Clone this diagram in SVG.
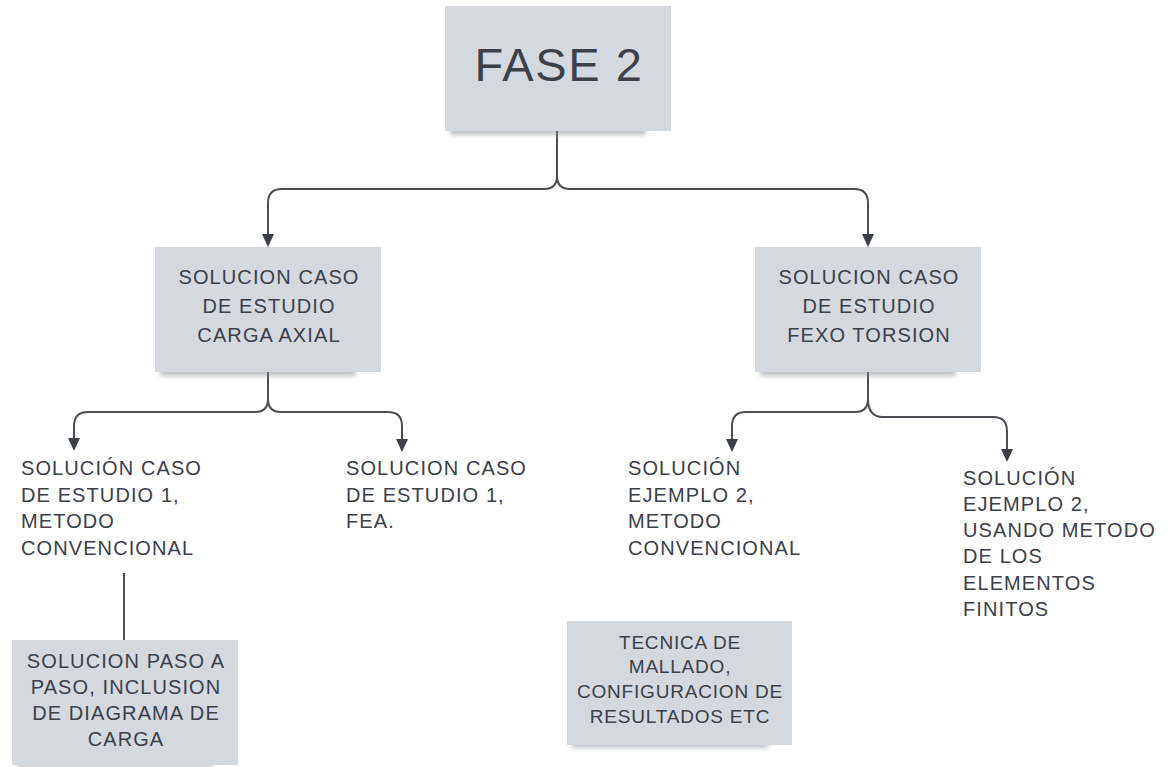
<svg xmlns="http://www.w3.org/2000/svg" width="1168" height="767" viewBox="0 0 1168 767">
<style>
.box{fill:#d4d8df;}
.shadow{fill:#8e939b;opacity:0.55;}
.t{font-family:"Liberation Sans",Arial,sans-serif;fill:#3b4049;font-size:20px;letter-spacing:1.1px;}
.c{text-anchor:middle;}
.conn{fill:none;stroke:#4a4d52;stroke-width:2;}
</style>
<defs>
<filter id="blur" x="-10%" y="-50%" width="120%" height="200%"><feGaussianBlur stdDeviation="2"/></filter>
</defs>
<rect width="1168" height="767" fill="#ffffff"/>
<g id="connectors">
<path class="conn" d="M557,131 V176 Q557,189 544,189 H282 Q268,189 268,203 V234"/>
<path class="conn" d="M557,176 Q557,189 570,189 H854 Q868,189 868,203 V234"/>
<path d="M262,234 L274,234 L268,247 Z M862,234 L874,234 L868,247 Z" fill="#3d4045"/>
<path class="conn" d="M268,372 V399 Q268,412 255,412 H88 Q74,412 74,426 V438"/>
<path class="conn" d="M268,399 Q268,412 281,412 H388 Q402,412 402,426 V439"/>
<path d="M68,438 L80,438 L74,451 Z M396,439 L408,439 L402,452 Z" fill="#3d4045"/>
<path class="conn" d="M868,372 V399 Q868,412 855,412 H746 Q732,412 732,426 V439"/>
<path class="conn" d="M868,399 Q868,417 883,417 H993 Q1007,417 1007,431 V449"/>
<path d="M726,439 L738,439 L732,452 Z M1001,449 L1013,449 L1007,462 Z" fill="#3d4045"/>
<path class="conn" d="M124,573 V640"/>
</g>
<g id="fase2">
<rect class="shadow" x="450" y="122" width="196" height="13" filter="url(#blur)"/>
<rect class="box" x="445" y="6" width="226" height="125"/>
<text class="t c" x="559" y="81" style="font-size:47px;letter-spacing:1.6px">FASE 2</text>
</g>
<g id="axial">
<rect class="shadow" x="160" y="363" width="196" height="13" filter="url(#blur)"/>
<rect class="box" x="155" y="247" width="226" height="125"/>
<text class="t c"><tspan x="269" y="284">SOLUCION CASO</tspan><tspan x="269" y="313">DE ESTUDIO</tspan><tspan x="269" y="342">CARGA AXIAL</tspan></text>
</g>
<g id="torsion">
<rect class="shadow" x="760" y="363" width="196" height="13" filter="url(#blur)"/>
<rect class="box" x="755" y="247" width="226" height="125"/>
<text class="t c"><tspan x="869" y="284">SOLUCION CASO</tspan><tspan x="869" y="313">DE ESTUDIO</tspan><tspan x="869" y="342">FEXO TORSION</tspan></text>
</g>
<g id="conv1">
<text class="t"><tspan x="21" y="475">SOLUCIÓN CASO</tspan><tspan x="21" y="502">DE ESTUDIO 1,</tspan><tspan x="21" y="528">METODO</tspan><tspan x="21" y="555">CONVENCIONAL</tspan></text>
</g>
<g id="fea1">
<text class="t"><tspan x="346" y="475">SOLUCION CASO</tspan><tspan x="346" y="502">DE ESTUDIO 1,</tspan><tspan x="346" y="528">FEA.</tspan></text>
</g>
<g id="conv2">
<text class="t"><tspan x="628" y="475">SOLUCIÓN</tspan><tspan x="628" y="502">EJEMPLO 2,</tspan><tspan x="628" y="528">METODO</tspan><tspan x="628" y="555">CONVENCIONAL</tspan></text>
</g>
<g id="fem2">
<text class="t"><tspan x="963" y="485">SOLUCIÓN</tspan><tspan x="963" y="511">EJEMPLO 2,</tspan><tspan x="963" y="537">USANDO METODO</tspan><tspan x="963" y="563">DE LOS</tspan><tspan x="963" y="590">ELEMENTOS</tspan><tspan x="963" y="616">FINITOS</tspan></text>
</g>
<g id="paso">
<rect class="shadow" x="17" y="756" width="196" height="11" filter="url(#blur)"/>
<rect class="box" x="12" y="640" width="226" height="125"/>
<text class="t c"><tspan x="126" y="668">SOLUCION PASO A</tspan><tspan x="126" y="694">PASO, INCLUSION</tspan><tspan x="126" y="720">DE DIAGRAMA DE</tspan><tspan x="126" y="746">CARGA</tspan></text>
</g>
<g id="tecnica">
<rect class="shadow" x="572" y="736" width="196" height="12" filter="url(#blur)"/>
<rect class="box" x="567" y="621" width="225" height="124"/>
<text class="t c" style="font-size:19px;letter-spacing:0.8px"><tspan x="680" y="649">TECNICA DE</tspan><tspan x="680" y="673">MALLADO,</tspan><tspan x="680" y="698">CONFIGURACION DE</tspan><tspan x="680" y="723">RESULTADOS ETC</tspan></text>
</g>
</svg>
